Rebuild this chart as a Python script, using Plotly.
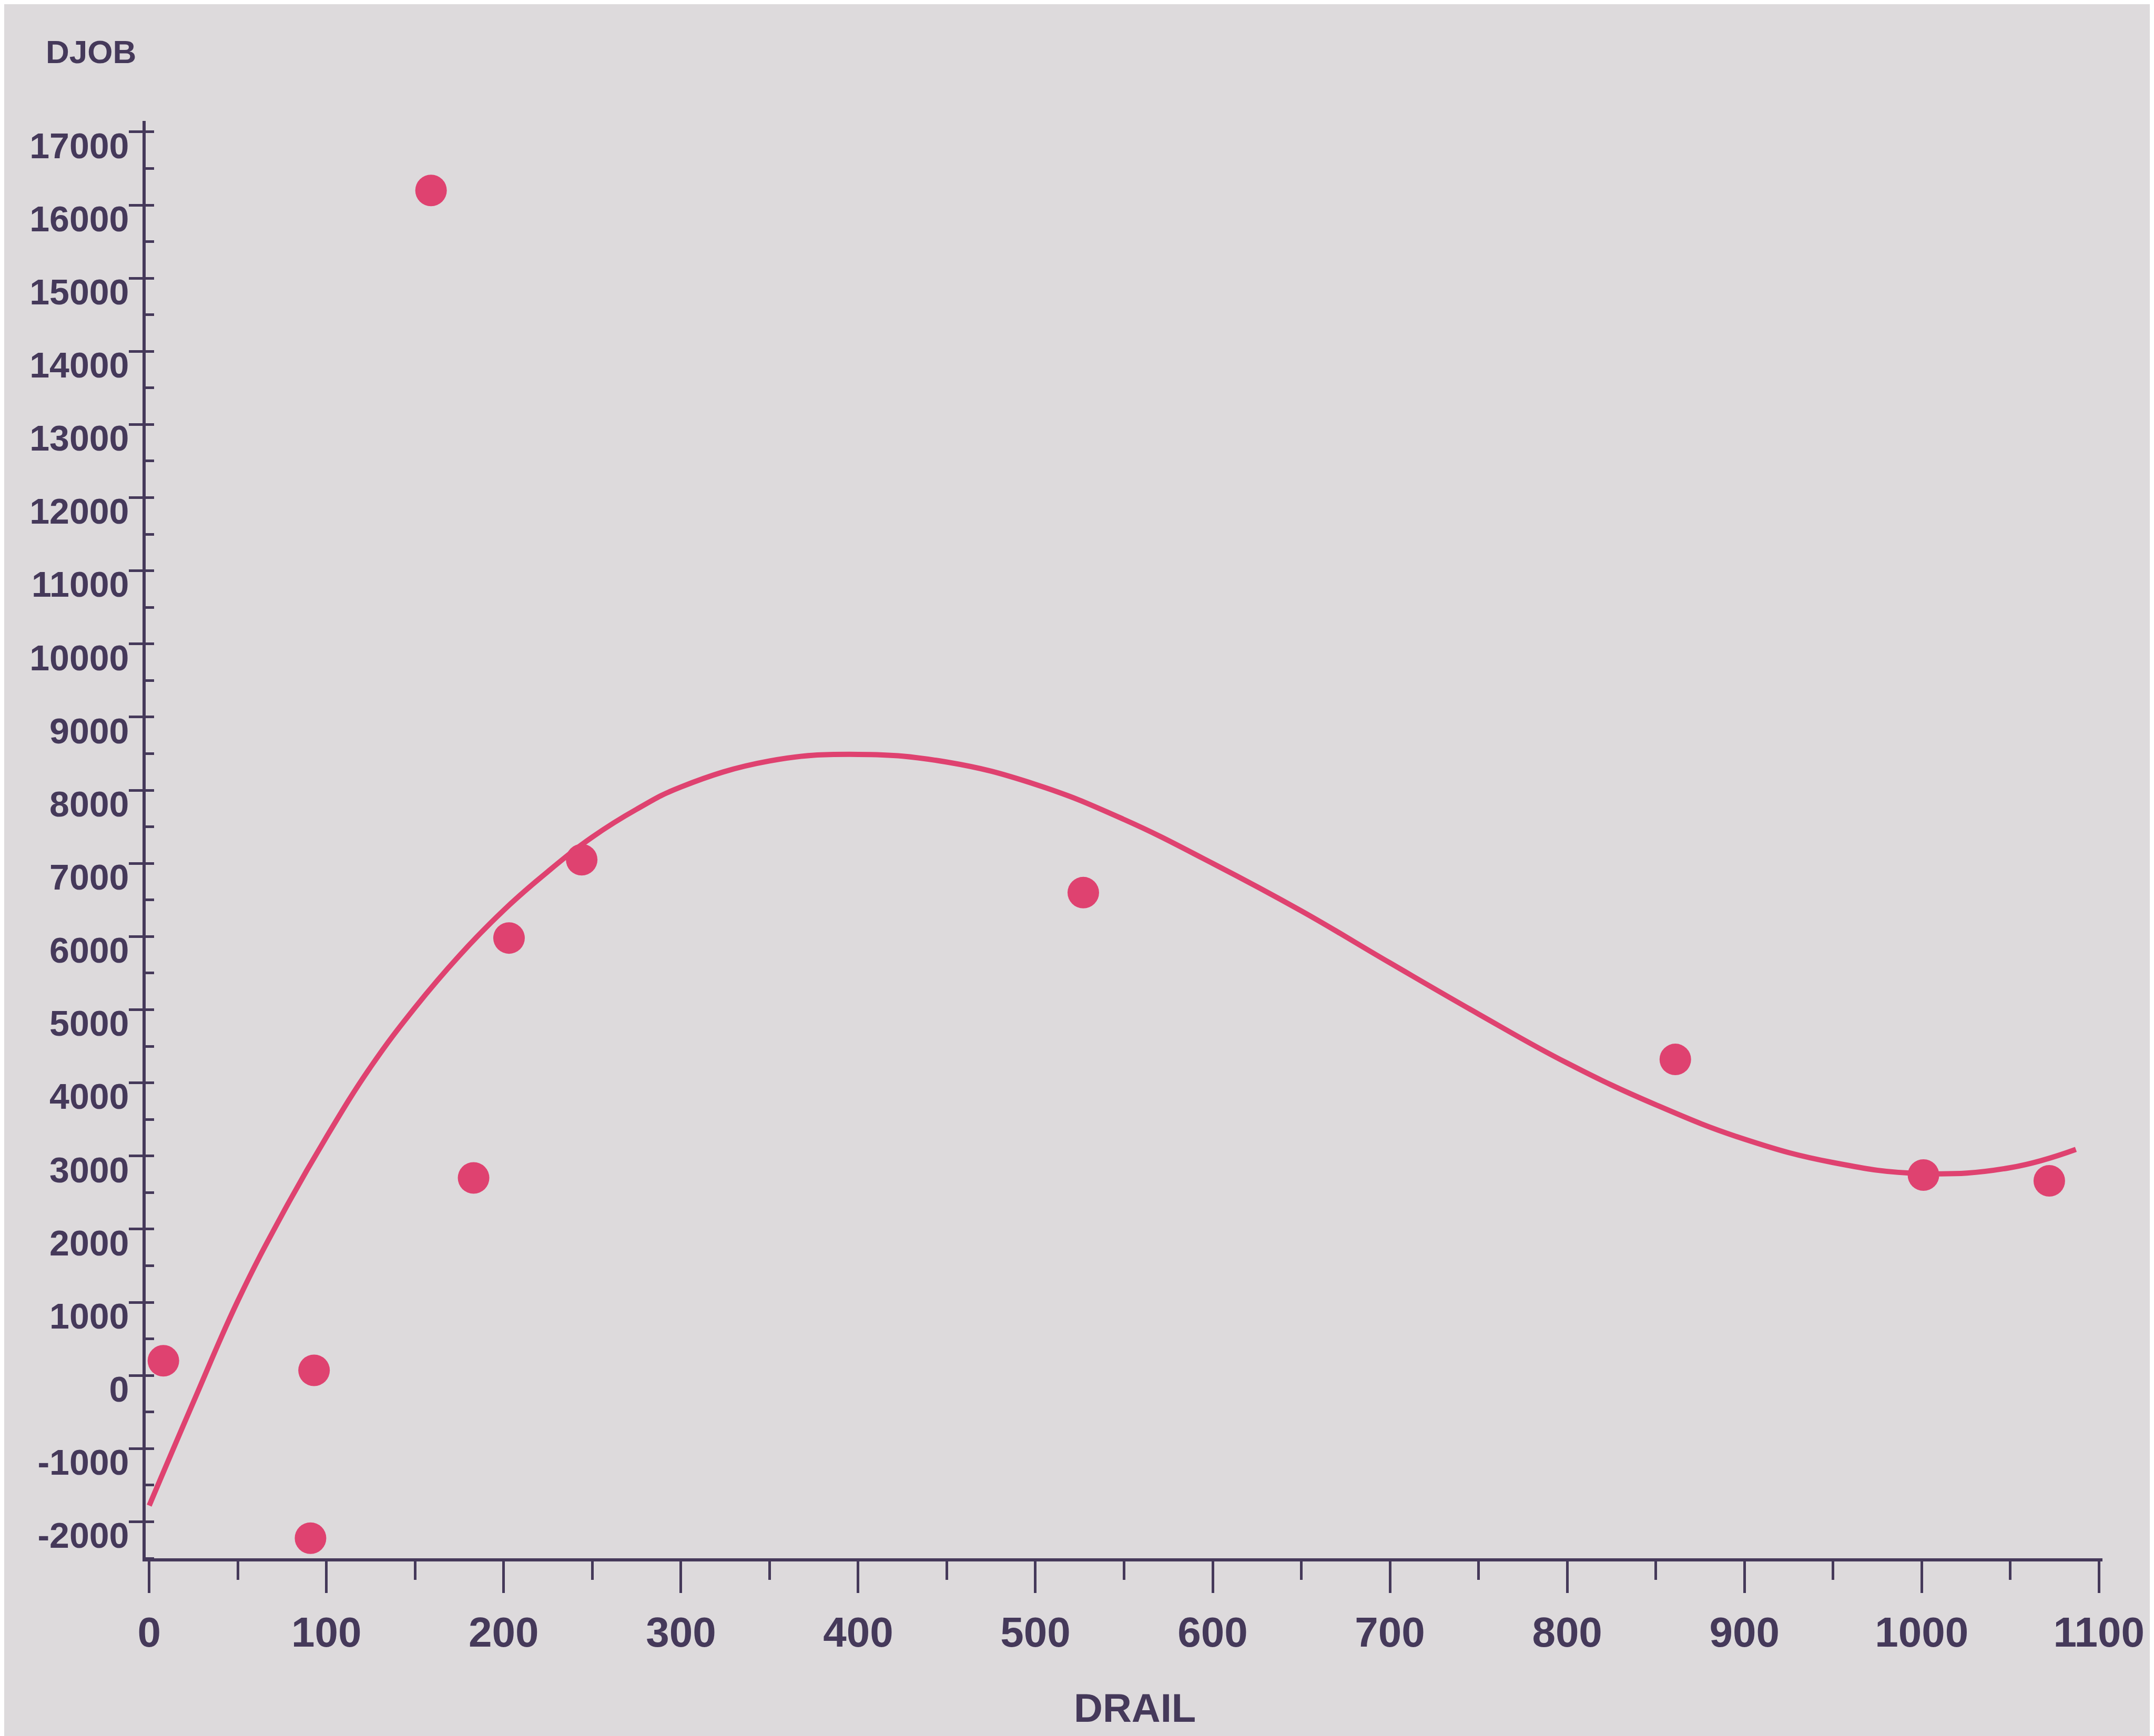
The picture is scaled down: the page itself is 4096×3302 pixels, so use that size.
import plotly.graph_objects as go

# Observed data points (DRAIL vs DJOB)
drail = [8, 91, 93, 159, 183, 203, 244, 527, 861, 1001, 1072]
djob = [200, -2225, 70, 16200, 2700, 5980, 7050, 6600, 4320, 2740, 2660]

# Fitted curve
fit_x = [0, 25, 50, 75, 100, 125, 150, 175, 200, 225, 250, 275, 300, 350, 400, 450,
         500, 550, 600, 650, 700, 750, 800, 850, 900, 950, 1000, 1050, 1087]
fit_y = [-1780, -360, 1020, 2200, 3260, 4220, 5030, 5740, 6360, 6890, 7360, 7740,
         8045, 8400, 8490, 8385, 8080, 7600, 7000, 6350, 5640, 4940, 4270, 3700,
         3230, 2910, 2760, 2840, 3090]

x_ticks = list(range(0, 1101, 100))
y_ticks = list(range(-2000, 17001, 1000))

ink = "#45395a"
red = "#df4270"
bg = "#dddadc"

fig = go.Figure()
fig.add_trace(go.Scatter(x=fit_x, y=fit_y, mode="lines",
                         line=dict(color=red, width=10, shape="spline", smoothing=1.2,
                                   simplify=False),
                         hoverinfo="skip"))
fig.add_trace(go.Scatter(x=drail, y=djob, mode="markers",
                         marker=dict(color=red, size=60, line=dict(width=0)),
                         hoverinfo="skip"))

W, H = 4096, 3302
L, R, T, B = 269, 106, 222, 346

fig.update_layout(
    width=W, height=H,
    margin=dict(l=L, r=R, t=T, b=B, pad=0),
    paper_bgcolor=bg, plot_bgcolor=bg,
    showlegend=False,
    hovermode=False,
    annotations=[
        dict(text="DJOB", xref="paper", yref="paper", x=-0.028, y=1.048,
             showarrow=False, xanchor="center", yanchor="middle",
             font=dict(family="Liberation Sans, Arial, sans-serif", size=62,
                       color=ink, weight="bold")),
        dict(text="DRAIL", xref="paper", yref="paper", x=0.5055, y=-0.104,
             showarrow=False, xanchor="center", yanchor="middle",
             font=dict(family="Liberation Sans Narrow, Arial Narrow, Liberation Sans, sans-serif",
                       size=76, color=ink, weight="bold")),
    ],
)

fig.update_xaxes(
    range=[-2, 1102], tickvals=x_ticks, ticktext=[str(v) for v in x_ticks],
    showgrid=False, zeroline=False, showline=True, linecolor=ink, linewidth=6,
    ticks="outside", ticklen=60, tickwidth=5, tickcolor=ink,
    ticklabelstandoff=6,
    tickfont=dict(family="Liberation Sans Narrow, Arial Narrow, Liberation Sans, sans-serif",
                  size=80, color=ink, weight="bold"),
    minor=dict(dtick=50, tick0=0, ticks="outside", ticklen=35, tickwidth=5, tickcolor=ink),
)

fig.update_yaxes(
    range=[-2500, 17150], tickvals=y_ticks, ticktext=[str(v) for v in y_ticks],
    showgrid=False, zeroline=False, showline=True, linecolor=ink, linewidth=6,
    ticks="outside", ticklen=26, tickwidth=5, tickcolor=ink,
    ticklabelshift=26, ticklabelstandoff=-14,
    tickfont=dict(family="Liberation Sans, Arial, sans-serif", size=68, color=ink,
                  weight="bold"),
    minor=dict(dtick=500, tick0=0, ticks="inside", ticklen=16, tickwidth=5, tickcolor=ink),
)

fig.write_html("out.html")
